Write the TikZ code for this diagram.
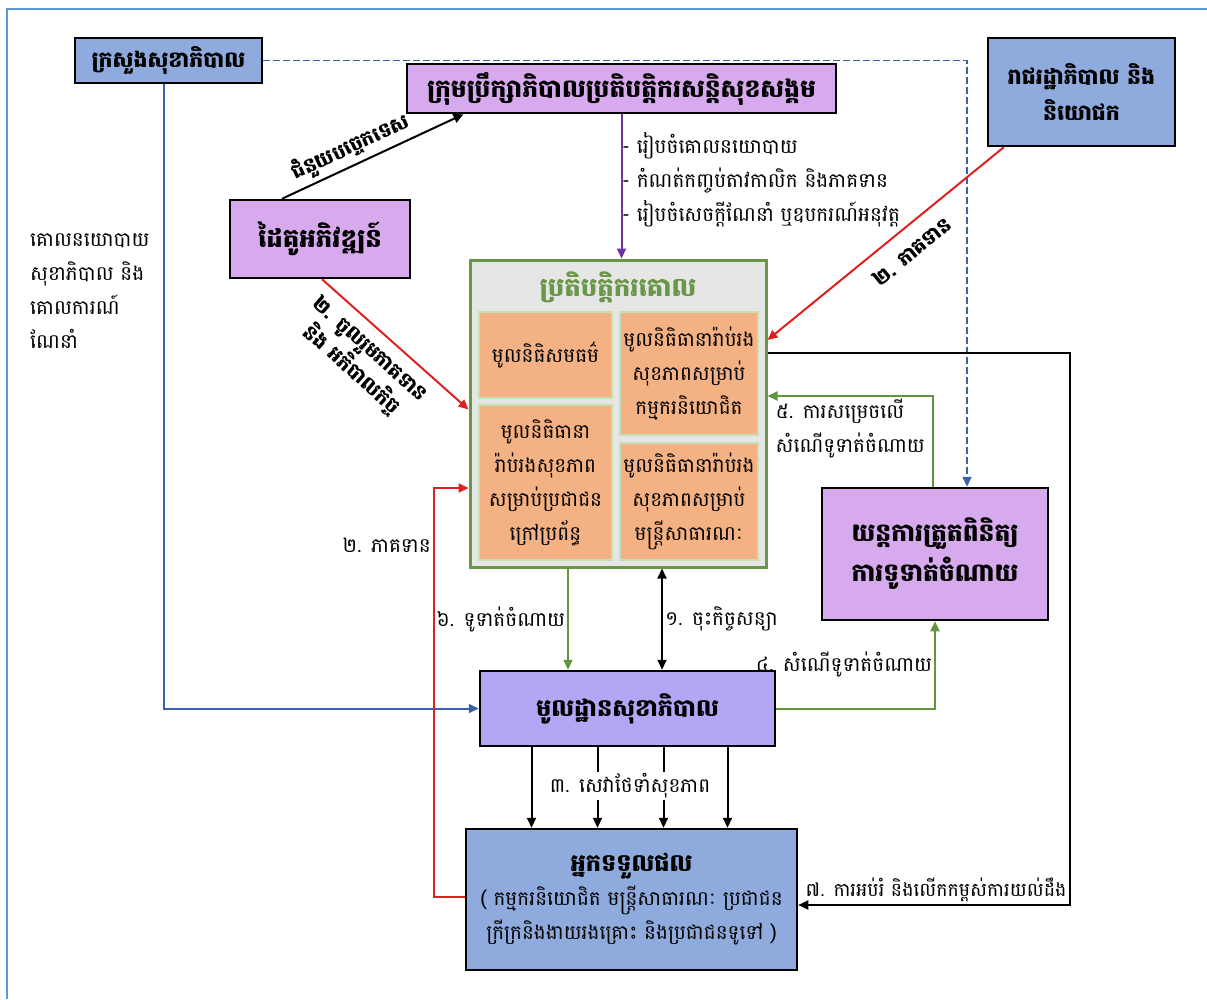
\documentclass[tikz,border=0pt]{standalone}
\usepackage{fontspec}
\usepackage{tikz}
\usetikzlibrary{arrows.meta,positioning}
\setmainfont{Battambang}[Script=Khmer]

\definecolor{boxblue}{RGB}{143,170,220}
\definecolor{boxviolet}{RGB}{214,170,236}
\definecolor{facviolet}{RGB}{180,166,245}
\definecolor{coregrey}{RGB}{231,230,230}
\definecolor{coregreen}{RGB}{106,150,72}
\definecolor{fundorange}{RGB}{244,177,131}
\definecolor{fundedge}{RGB}{197,224,180}
\definecolor{linkblue}{RGB}{58,98,168}
\definecolor{linkred}{RGB}{224,32,32}
\definecolor{linkgreen}{RGB}{96,150,60}
\definecolor{linkviolet}{RGB}{112,48,160}
\definecolor{pageblue}{RGB}{91,155,213}

\begin{document}
\begin{tikzpicture}[x=1pt,y=-1pt,
  txt/.style={font=\fontsize{20}{34}\selectfont,inner sep=2pt,text=black},
  boldtxt/.style={txt,font=\bfseries\fontsize{20}{30}\selectfont},
  box/.style={draw=black,line width=2.5pt,align=center,inner sep=0pt,
    font=\bfseries\fontsize{22}{36}\selectfont},
  bluebox/.style={box,fill=boxblue},
  violetbox/.style={box,fill=boxviolet},
  fundbox/.style={draw=fundedge,line width=2.5pt,fill=fundorange,align=center,
    inner sep=0pt,font=\fontsize{20}{34}\selectfont},
  tip/.style={-{Triangle[length=10pt,width=9pt]}},
  link/.style={line width=2pt,tip}]
\useasboundingbox (0,0) rectangle (1207,999);
\draw[pageblue,line width=1.2pt] (7,999)--(7,9)--(1207,9);

%boxes
\node[bluebox,minimum width=187pt,minimum height=45pt] (moh) at (168.5,60.5) {ក្រសួងសុខាភិបាល};
\node[violetbox,minimum width=429pt,minimum height=49pt,font=\bfseries\fontsize{25}{36}\selectfont] (board) at (621.5,88.5) {ក្រុមប្រឹក្សាភិបាលប្រតិបត្តិករសន្តិសុខសង្គម};
\node[bluebox,minimum width=187pt,minimum height=108pt] (gov) at (1081.5,92) {រាជរដ្ឋាភិបាល និង\\និយោជក};
\node[violetbox,minimum width=180pt,minimum height=78pt,font=\bfseries\fontsize{26}{36}\selectfont] (partner) at (320,239) {ដៃគូអភិវឌ្ឍន៍};
\node[violetbox,minimum width=226pt,minimum height=132pt,font=\bfseries\fontsize{25}{40}\selectfont] (review) at (935,554) {យន្តការត្រួតពិនិត្យ\\ការទូទាត់ចំណាយ};
\node[box,fill=facviolet,minimum width=295pt,minimum height=75pt,font=\bfseries\fontsize{24}{36}\selectfont] (facility) at (627.5,708.5) {មូលដ្ឋានសុខាភិបាល};
\node[bluebox,minimum width=331pt,minimum height=141pt,font=\fontsize{20}{34}\selectfont] (benef) at (631.5,899.5)
  {{\bfseries\fontsize{24}{34}\selectfont អ្នកទទួលផល}\\( កម្មករនិយោជិត មន្ត្រីសាធារណៈ ប្រជាជន\\ក្រីក្រនិងងាយរងគ្រោះ និងប្រជាជនទូទៅ )};

%ប្រតិបត្តិករគោល
\node[draw=coregreen,line width=3pt,fill=coregrey,minimum width=296pt,minimum height=307pt] (core) at (618,413.5) {};
\node[font=\bfseries\fontsize{26}{30}\selectfont,text=coregreen] (coretitle) at (618,287) {ប្រតិបត្តិករគោល};
\node[fundbox,minimum width=133pt,minimum height=86pt] (fundeq) at (545.5,355) {មូលនិធិសមធម៌};
\node[fundbox,minimum width=138pt,minimum height=123pt] (fundwork) at (689,373.5) {មូលនិធិធានារ៉ាប់រង\\សុខភាពសម្រាប់\\កម្មករនិយោជិត};
\node[fundbox,minimum width=133pt,minimum height=155pt] (fundinf) at (545.5,482.5) {មូលនិធិធានា\\រ៉ាប់រងសុខភាព\\សម្រាប់ប្រជាជន\\ក្រៅប្រព័ន្ធ};
\node[fundbox,minimum width=138pt,minimum height=117pt] (fundciv) at (689,501.5) {មូលនិធិធានារ៉ាប់រង\\សុខភាពសម្រាប់\\មន្ត្រីសាធារណៈ};

%texts
\node[txt,align=left,anchor=north west] (policy) at (28,232) {គោលនយោបាយ\\សុខាភិបាល និង\\គោលការណ៍\\ណែនាំ};
\node[txt,align=left,anchor=west] (tasks) at (620,180) {- រៀបចំគោលនយោបាយ\\- កំណត់កញ្ចប់តាវកាលិក និងភាគទាន\\- រៀបចំសេចក្តីណែនាំ ឬឧបករណ៍អនុវត្ត};

%links
\draw[link,linkblue] ([xshift=-5pt]moh.south) |- (facility.west);
\draw[linkblue,line width=1.8pt,dash pattern=on 7pt off 3pt,tip] (moh.east) -| ([xshift=32pt]review.north);
\draw[link,black] ([xshift=-38pt]partner.north) -- ([xshift=-158pt]board.south)
  node[pos=0.42,above=2pt,sloped,boldtxt] (techlbl) {ជំនួយបច្ចេកទេស};
\draw[link,linkred] ([xshift=2pt]partner.south) -- ([yshift=4pt]core.west)
  node[pos=0.42,below=8pt,sloped,boldtxt,align=center,font=\bfseries\fontsize{20}{28}\selectfont] (joinlbl) {២. ចូលរួមភាគទាន\\និង អភិបាលកិច្ច};
\draw[link,linkred] ([xshift=17pt]gov.south west) -- ([yshift=73.5pt]core.east)
  node[pos=0.45,below=12pt,sloped,boldtxt] (govlbl) {២. ភាគទាន};
\draw[link,linkviolet] (board.south) -- (board.south |- core.north);
\draw[link,linkgreen] ([xshift=-2pt]review.north) |- ([yshift=17.5pt]core.east)
  node[pos=0.75,below,txt,align=left] (decidelbl) {៥. ការសម្រេចលើ\\សំណើទូទាត់ចំណាយ};
\draw[link,black] ([yshift=60.5pt]core.east) -- ++(302,0) |- ([yshift=-5.5pt]benef.east)
  node[pos=0.5,above left,txt,font=\fontsize{19}{30}\selectfont] (edulbl) {៧. ការអប់រំ និងលើកកម្ពស់ការយល់ដឹង};
\draw[link,linkgreen] ([xshift=-50pt]core.south) -- ([xshift=-50pt]core.south |- facility.north)
  node[midway,left,txt] (paylbl) {៦. ទូទាត់ចំណាយ};
\draw[line width=2pt,black,{Triangle[length=10pt,width=9pt]}-{Triangle[length=10pt,width=9pt]}] ([xshift=44pt]core.south) -- ([xshift=44pt]core.south |- facility.north)
  node[midway,right,txt] (contractlbl) {១. ចុះកិច្ចសន្យា};
\draw[link,linkgreen] (facility.east) -| (review.south)
  node[pos=0.75,left,txt] (requestlbl) {៤. សំណើទូទាត់ចំណាយ};
\foreach \d in {-96,-30,36,100}
  \draw[link,black] ([xshift=\d pt]facility.south) -- ([xshift=\d pt]facility.south |- benef.north);
\node[txt,fill=white] (carelbl) at (630,786) {៣. សេវាថែទាំសុខភាព};
\draw[link,linkred] ([yshift=2.5pt]benef.west) -- ++(-31,0) |- ([yshift=-74.5pt]core.west)
  node[pos=0.43,left,txt] (contriblbl) {២. ភាគទាន};
\end{tikzpicture}
\end{document}
